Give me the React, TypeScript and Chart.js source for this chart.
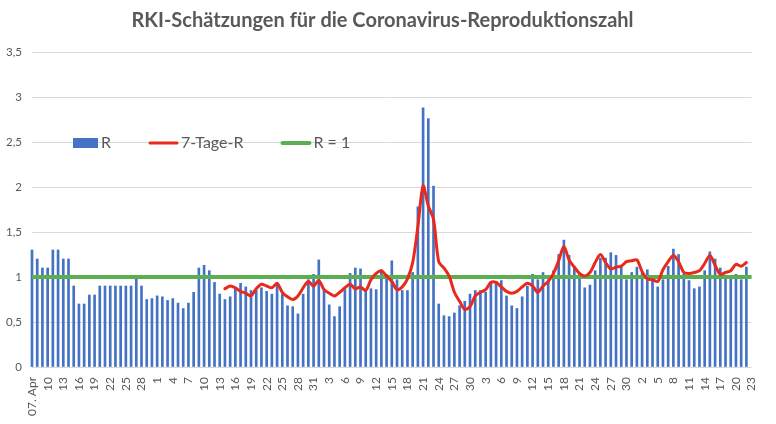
import React, { useEffect, useRef } from "react";
import { Chart, registerables } from "chart.js";

Chart.register(...registerables);

// ---------- data ----------
const categoryMonths = ["Apr", "Mai", "Jun", "Jul", "Aug"];
const categoryFirstDay = [7, 1, 1, 1, 1];
const categoryLastDay = [30, 31, 30, 31, 23];

const xTickLabels = [
  "07. Apr", "10", "13", "16", "19", "22", "25", "28",
  "1", "4", "7", "10", "13", "16", "19", "22", "25", "28", "31",
  "3", "6", "9", "12", "15", "18", "21", "24", "27", "30",
  "3", "6", "9", "12", "15", "18", "21", "24", "27", "30",
  "2", "5", "8", "11", "14", "17", "20", "23",
];

const yTickLabels = ["0", "0,5", "1", "1,5", "2", "2,5", "3", "3,5"];

const rValues = [
  1.3, 1.2, 1.1, 1.1, 1.3, 1.3, 1.2, 1.2, 0.9, 0.7,
  0.7, 0.8, 0.8, 0.9, 0.9, 0.9, 0.9, 0.9, 0.9, 0.9,
  1.0, 0.9, 0.75, 0.76, 0.79, 0.78, 0.74, 0.76, 0.71, 0.65,
  0.71, 0.83, 1.10, 1.13, 1.07, 0.94, 0.81, 0.75, 0.78, 0.87,
  0.93, 0.89, 0.85, 0.85, 0.88, 0.84, 0.81, 0.93, 0.81, 0.68,
  0.67, 0.59, 0.81, 0.97, 1.03, 1.19, 0.86, 0.69, 0.56, 0.67,
  0.86, 1.04, 1.10, 1.09, 0.84, 0.87, 0.86, 1.08, 1.03, 1.18,
  0.97, 0.85, 0.85, 1.05, 1.78, 2.88, 2.76, 2.01, 0.70, 0.57,
  0.56, 0.60, 0.68, 0.73, 0.81, 0.85, 0.85, 0.83, 0.95, 0.95,
  0.96, 0.79, 0.68, 0.65, 0.78, 0.90, 1.03, 0.97, 1.05, 0.97,
  1.07, 1.25, 1.41, 1.24, 1.12, 1.03, 0.88, 0.91, 1.07, 1.21,
  1.21, 1.27, 1.24, 1.12, 0.97, 1.05, 1.11, 1.05, 1.08, 0.97,
  0.89, 0.97, 1.12, 1.31, 1.25, 1.03, 0.96, 0.87, 0.89, 1.07,
  1.28, 1.20, 1.10, 0.98, 0.98, 1.03, 0.97, 1.11, null,
];

// 7-Tage-R starts on 14. Mai (category index 37)
const sevenDayStartIndex = 37;
const sevenDayValues = [
  0.87, 0.90, 0.88, 0.84, 0.82, 0.79, 0.87, 0.92, 0.90, 0.88,
  0.93, 0.83, 0.78, 0.75, 0.79, 0.88, 0.95, 0.90, 0.96, 0.86,
  0.82, 0.79, 0.83, 0.88, 0.92, 0.87, 0.89, 0.85, 0.97, 1.04,
  1.07, 1.01, 0.95, 0.86, 0.89, 0.98, 1.16, 1.56, 2.01, 1.79,
  1.64, 1.17, 1.10, 1.01, 0.83, 0.73, 0.64, 0.67, 0.79, 0.83,
  0.86, 0.94, 0.94, 0.89, 0.84, 0.82, 0.84, 0.89, 0.93, 0.90,
  0.83, 0.90, 0.95, 1.04, 1.18, 1.34, 1.19, 1.11, 1.04, 1.01,
  1.05, 1.16, 1.25, 1.16, 1.09, 1.11, 1.12, 1.17, 1.18, 1.19,
  1.06, 0.98, 0.97, 0.95, 1.08, 1.17, 1.24, 1.17, 1.05, 1.04,
  1.05, 1.07, 1.15, 1.24, 1.13, 1.03, 1.05, 1.07, 1.14, 1.12, 1.16,
];

const referenceR = 1;

const seriesNames = ["R", "7-Tage-R", "R = 1"];
const titleText = "RKI-Schätzungen für die Coronavirus-Reproduktionszahl";

// ---------- styling ----------
const FONT = "Lato, 'Open Sans', sans-serif";
const TEXT_COLOR = "#595959";
const GRID_COLOR = "#d9d9d9";
const BAR_COLOR = "#4472C4";
const RED = "#E8291C";
const GREEN = "#5BAF50";

function buildCategories(): string[] {
  const out: string[] = [];
  categoryMonths.forEach((m, mi) => {
    for (let d = categoryFirstDay[mi]; d <= categoryLastDay[mi]; d++) {
      out.push(`${String(d).padStart(2, "0")}. ${m}`);
    }
  });
  return out;
}

const insideLegend = {
  id: "insideLegend",
  afterDraw(chart: any) {
    const ctx = chart.ctx as CanvasRenderingContext2D;
    const datasets = chart.data.datasets;
    ctx.save();
    ctx.font = `16px ${FONT}`;
    ctx.textBaseline = "middle";
    ctx.textAlign = "left";
    const y = 143;
    let x = 73;
    datasets.forEach((ds: any) => {
      const isBar = ds.type === "bar";
      const symW = isBar ? 25 : 29;
      if (isBar) {
        ctx.fillStyle = ds.backgroundColor;
        ctx.fillRect(x, y - 5, symW, 10);
      } else {
        ctx.strokeStyle = ds.borderColor;
        ctx.lineWidth = ds.borderWidth;
        ctx.lineCap = "round";
        ctx.beginPath();
        ctx.moveTo(x + 1, y);
        ctx.lineTo(x + symW - 1, y);
        ctx.stroke();
      }
      const tx = x + symW + 3;
      ctx.fillStyle = TEXT_COLOR;
      ctx.fillText(ds.label, tx, y);
      x = tx + ctx.measureText(ds.label).width + 38;
    });
    ctx.restore();
  },
};

export default function App() {
  const ref = useRef<HTMLCanvasElement | null>(null);

  useEffect(() => {
    if (!ref.current) return;
    const categories = buildCategories();
    const sevenDayData: (number | null)[] = categories.map((_, i) => {
      const k = i - sevenDayStartIndex;
      return k >= 0 && k < sevenDayValues.length ? sevenDayValues[k] : null;
    });

    const chart = new Chart(ref.current, {
      type: "bar",
      data: {
        labels: categories,
        datasets: [
          {
            type: "bar",
            label: seriesNames[0],
            data: rValues,
            backgroundColor: BAR_COLOR,
            barThickness: 2,
            order: 3,
            clip: false,
          } as any,
          {
            type: "line",
            label: seriesNames[1],
            data: sevenDayData,
            borderColor: RED,
            backgroundColor: RED,
            borderWidth: 3,
            pointRadius: 0,
            tension: 0.3,
            borderCapStyle: "round",
            borderJoinStyle: "round",
            order: 1,
          } as any,
          {
            type: "line",
            label: seriesNames[2],
            data: [
              { x: categories[0], y: referenceR },
              { x: categories[categories.length - 1], y: referenceR },
            ],
            borderColor: GREEN,
            backgroundColor: GREEN,
            borderWidth: 4,
            pointRadius: 0,
            order: 2,
          } as any,
        ],
      },
      options: {
        responsive: false,
        animation: false,
        layout: { padding: { left: 0, right: 11, top: 0, bottom: 0 } },
        plugins: {
          legend: { display: false },
          tooltip: { enabled: false },
          title: {
            display: true,
            text: titleText,
            color: TEXT_COLOR,
            font: { family: FONT, size: 20, weight: "bold" },
            padding: { top: 9, bottom: 19 },
          },
        },
        scales: {
          x: {
            type: "category",
            offset: false,
            grid: { display: false, drawTicks: false },
            border: { display: false },
            ticks: {
              autoSkip: false,
              minRotation: 90,
              maxRotation: 90,
              padding: 10,
              color: TEXT_COLOR,
              font: { family: FONT, size: 12 },
              callback: (_v: any, i: number) =>
                i % 3 === 0 ? xTickLabels[i / 3] : "",
            },
            afterFit: (scale: any) => {
              scale.height = 57;
            },
          },
          y: {
            min: 0,
            max: 3.5,
            grid: { color: GRID_COLOR, lineWidth: 1, drawTicks: false },
            border: { display: false },
            ticks: {
              stepSize: 0.5,
              padding: 10,
              color: TEXT_COLOR,
              font: { family: FONT, size: 11.5 },
              callback: (_v: any, i: number) => yTickLabels[i],
            },
            afterFit: (scale: any) => {
              scale.width = 32;
            },
          },
        },
      },
      plugins: [insideLegend],
    });
    return () => chart.destroy();
  }, []);

  return (
    <div style={{ position: "absolute", left: 0, top: 0, width: 776, height: 424 }}>
      <canvas ref={ref} width={776} height={424} />
    </div>
  );
}
